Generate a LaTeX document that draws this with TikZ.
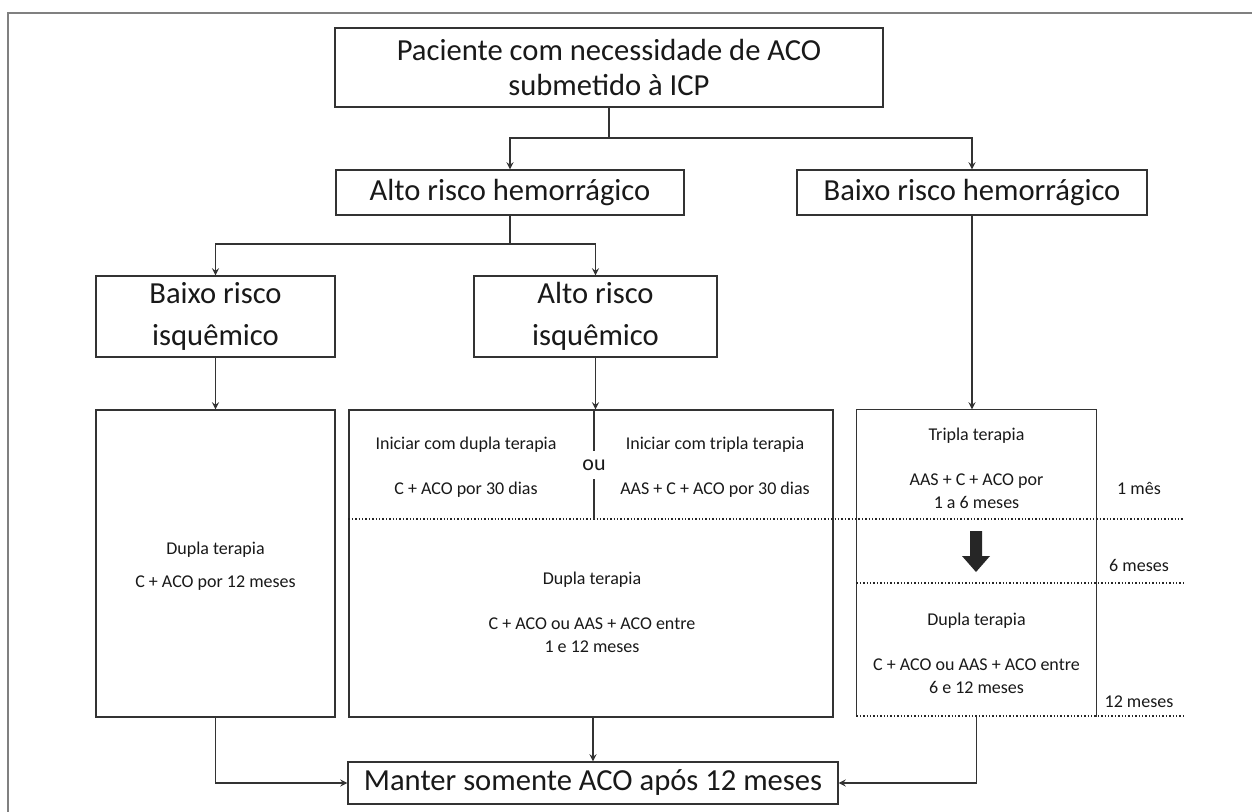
\documentclass[tikz,border=0pt]{standalone}
\usepackage{fontspec}
\setmainfont{Carlito}
\usepackage{tikz}
\usetikzlibrary{positioning,arrows}

\begin{document}
\begin{tikzpicture}[x=0.5pt,y=-0.5pt,
    ->,
    >=stealth,
    line width=0.6pt,
    draw=black!80,
    bb/.style={%
      rectangle, draw=black!80, line width=0.6pt, fill=white, inner sep=0pt,
      align=center, text=black!90,
      font=\fontsize{15.3pt}{17.5pt}\selectfont
    },
    txt/.style={%
      inner sep=0pt, align=center, text=black!90,
      font=\fontsize{9pt}{11.5pt}\selectfont
    },
    dots/.style={-, densely dotted, line width=0.7pt, black!85},
    frame/.style={-, line width=1.2pt, black!50}
]
    \useasboundingbox (0,0) rectangle (1252,812);
    \draw[frame] (1252,13) -- (8,13) -- (8,812);

    % boxes
    \node[bb, minimum width=274pt, minimum height=39.5pt] (1) at (609,67.5)
        {Paciente com necessidade de ACO\\submetido à ICP};
    \node[bb, minimum width=174pt, minimum height=22.5pt] (2) at (510,192.5)
        {Alto risco hemorrágico};
    \node[bb, minimum width=175pt, minimum height=22.5pt] (3) at (972,192.5)
        {Baixo risco hemorrágico};
    \node[bb, minimum width=119.5pt, minimum height=40.5pt,
          font=\fontsize{15.3pt}{21pt}\selectfont] (4) at (215.5,316.5)
        {Baixo risco\\isquêmico};
    \node[bb, minimum width=121.5pt, minimum height=40.5pt,
          font=\fontsize{15.3pt}{21pt}\selectfont] (5) at (595.5,316.5)
        {Alto risco\\isquêmico};
    \node[bb, minimum width=119.5pt, minimum height=153.5pt] (6) at (215.5,563.5) {};
    \node[bb, minimum width=242pt, minimum height=153.5pt] (7) at (591,563.5) {};
    \node[bb, draw=none, minimum width=119.5pt, minimum height=153pt] (8) at (976.5,563) {};
    \node[bb, minimum width=245pt, minimum height=21pt] (9) at (593,783)
        {Manter somente ACO após 12 meses};

    % box contents
    \node[txt] (6a) at (215.5,566) {Dupla terapia\\[5pt]C + ACO por 12 meses};
    \node[txt] (7a) at (466,467) {Iniciar com dupla terapia\\[11pt]C + ACO por 30 dias};
    \node[txt] (7b) at (715,467) {Iniciar com tripla terapia\\[11pt]AAS + C + ACO por 30 dias};
    \node[txt, inner sep=4pt, font=\fontsize{11pt}{13pt}\selectfont] (ou) at (594,465) {ou};
    \node[txt] (7c) at (592,612) {Dupla terapia\\[11pt]C + ACO ou AAS + ACO entre\\1 e 12 meses};
    \node[txt] (8a) at (976.5,468) {Tripla terapia\\[11pt]AAS + C + ACO por\\1 a 6 meses};
    \node[txt] (8b) at (976.5,653) {Dupla terapia\\[11pt]C + ACO ou AAS + ACO entre\\6 e 12 meses};

    % time marks
    \node[txt] (m1)  at (1139,488) {1 mês};
    \node[txt] (m6)  at (1139,565) {6 meses};
    \node[txt] (m12) at (1139,702) {12 meses};

    \coordinate (d1) at (1183,519);
    \coordinate (d2) at (1183,583);
    \coordinate (d3) at (1183,716);

    % right box (open bottom) and dotted time lines
    \draw[-] (8.south west) -- (8.north west) -- (8.north east) -- (8.south east);
    \draw[dots] (7.west |- d1) -- (d1);
    \draw[dots] (8.west |- d2) -- (d2);
    \draw[dots] (8.west |- d3) -- (d3);
    \draw[-] (7.north -| ou) -- (ou.north);
    \draw[-] (ou.south) -- (ou |- d1);
    \fill[black!85] (970,531) -- (982,531) -- (982,556) -- (990,556)
        -- (976,572) -- (962,556) -- (970,556) -- cycle;

    % connectors
    \coordinate (j1) at (609,138);
    \coordinate (j2) at (510,244);
    \draw[-] (1) -- (j1);
    \draw (j1) -| (2);
    \draw (j1) -| (3);
    \draw[-] (2) -- (j2);
    \draw (j2) -| (4);
    \draw (j2) -| (5);
    \draw (4) -- (6);
    \draw (5.south) -- (5.south |- 7.north);
    \draw (3.south) -- (3.south |- 8.north);
    \draw (6.south) |- (9.west);
    \draw (7.south -| 9.north) -- (9.north);
    \draw (8.south) |- (9.east);

\end{tikzpicture}
\end{document}
